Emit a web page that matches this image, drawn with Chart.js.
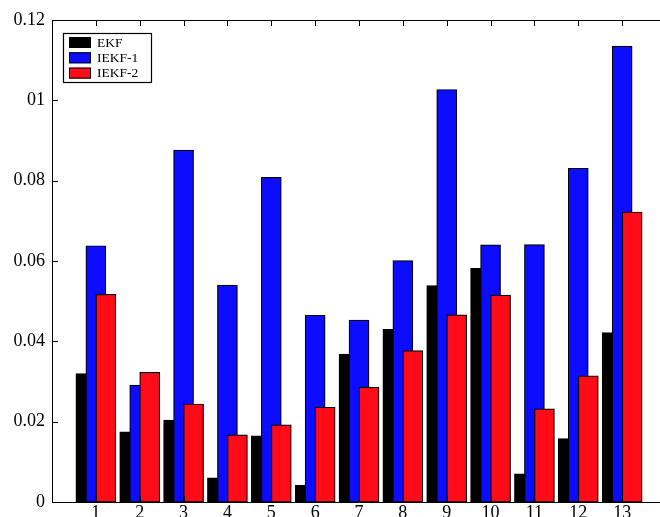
<!DOCTYPE html>
<html>
<head>
<meta charset="utf-8">
<script src="https://cdn.jsdelivr.net/npm/chart.js@4.4.1/dist/chart.umd.min.js"></script>
<style>
  html, body { margin: 0; padding: 0; background: #fff; overflow: hidden; }
  #wrap { width: 660px; height: 517px; overflow: hidden; }
  canvas { display: block; }
</style>
</head>
<body>
<div id="wrap"><canvas id="chart" width="680" height="540"></canvas></div>
<script>
// --- data ---
const categories = [1, 2, 3, 4, 5, 6, 7, 8, 9, 10, 11, 12, 13];
const ekf   = [0.0320, 0.0175, 0.0204, 0.0060, 0.0165, 0.0042, 0.0368, 0.0430, 0.0539, 0.0582, 0.0070, 0.0158, 0.0422];
const iekf1 = [0.0638, 0.0291, 0.0876, 0.0540, 0.0808, 0.0465, 0.0453, 0.0601, 0.1027, 0.0640, 0.0641, 0.0831, 0.1135];
const iekf2 = [0.0517, 0.0323, 0.0244, 0.0167, 0.0192, 0.0236, 0.0286, 0.0377, 0.0466, 0.0515, 0.0232, 0.0314, 0.0722];
const yTickValues = [0, 0.02, 0.04, 0.06, 0.08, 0.10, 0.12];
const yTickLabels = ['0', '0.02', '0.04', '0.06', '0.08', '01', '0.12'];

const FONT = '"Liberation Serif", "Times New Roman", serif';
const GROUP_SHIFT = 0.228; // bars in a group overlap by half their width

const series = [
  { label: 'EKF',    values: ekf,   color: '#000000', shift: -GROUP_SHIFT, order: 3 },
  { label: 'IEKF-1', values: iekf1, color: 'rgb(12,12,255)', shift: 0, order: 2 },
  { label: 'IEKF-2', values: iekf2, color: 'rgb(255,12,24)', shift: GROUP_SHIFT, order: 1 },
];

// MATLAB-style inward ticks on all four sides + top border line
const boxTicks = {
  id: 'boxTicks',
  afterDatasetsDraw(chart) {
    const { ctx, chartArea: a, scales } = chart;
    const len = 6;
    ctx.save();
    ctx.strokeStyle = '#000';
    ctx.lineWidth = 1;
    ctx.beginPath();
    ctx.moveTo(a.left, a.top + 0.5);
    ctx.lineTo(a.right, a.top + 0.5);
    scales.x.ticks.forEach(t => {
      const x = Math.round(scales.x.getPixelForValue(t.value)) + 0.5;
      ctx.moveTo(x, a.bottom); ctx.lineTo(x, a.bottom - len);
      ctx.moveTo(x, a.top); ctx.lineTo(x, a.top + len);
    });
    scales.y.ticks.forEach(t => {
      const y = Math.round(scales.y.getPixelForValue(t.value)) + 0.5;
      ctx.moveTo(a.left, y); ctx.lineTo(a.left + len, y);
      ctx.moveTo(a.right, y); ctx.lineTo(a.right - len, y);
    });
    ctx.stroke();
    ctx.restore();
  }
};

// boxed legend in the upper-left corner of the axes
const boxLegend = {
  id: 'boxLegend',
  afterDraw(chart) {
    const { ctx, chartArea: a } = chart;
    const bx = a.left + 11, by = a.top + 13, bw = 88, bh = 49;
    ctx.save();
    ctx.fillStyle = '#fff';
    ctx.fillRect(bx, by, bw, bh);
    ctx.strokeStyle = '#000';
    ctx.lineWidth = 1.2;
    ctx.strokeRect(bx + 0.5, by + 0.5, bw, bh);
    ctx.font = '13.5px ' + FONT;
    ctx.textBaseline = 'middle';
    chart.data.datasets.forEach((ds, i) => {
      const sy = by + 4 + i * 15.3;
      ctx.fillStyle = ds.backgroundColor;
      ctx.fillRect(bx + 6, sy, 22, 11);
      ctx.lineWidth = 1;
      ctx.strokeRect(bx + 6.5, sy + 0.5, 21, 10);
      ctx.fillStyle = '#000';
      ctx.fillText(ds.label, bx + 34, sy + 6);
    });
    ctx.restore();
  }
};

new Chart(document.getElementById('chart'), {
  type: 'bar',
  data: {
    datasets: series.map(s => ({
      label: s.label,
      data: categories.map((c, i) => ({ x: c + s.shift, y: s.values[i] })),
      backgroundColor: s.color,
      borderColor: '#000',
      borderWidth: 1.2,
      borderSkipped: false,
      barThickness: 20,
      grouped: false,
      order: s.order,
    })),
  },
  options: {
    responsive: false,
    animation: false,
    layout: { padding: { top: 20, right: 14, left: 0, bottom: 0 } },
    plugins: { legend: { display: false }, tooltip: { enabled: false } },
    scales: {
      x: {
        type: 'linear',
        offset: false,
        min: 0,
        max: 14,
        grid: { display: false, drawTicks: false },
        border: { display: true, color: '#000', width: 1 },
        afterBuildTicks: (s) => { s.ticks = categories.map(v => ({ value: v })); },
        afterFit: (s) => { s.height = 38; },
        ticks: {
          autoSkip: false, maxRotation: 0, padding: 0,
          color: '#000', font: { family: FONT, size: 18 },
          callback: (v) => String(v),
        },
      },
      y: {
        min: 0,
        max: 0.12,
        grid: { display: false, drawTicks: false },
        border: { display: true, color: '#000', width: 1 },
        afterBuildTicks: (s) => { s.ticks = yTickValues.map(v => ({ value: v })); },
        afterFit: (s) => { s.width = 52; },
        ticks: {
          padding: 7,
          color: '#000', font: { family: FONT, size: 18 },
          callback: (v, i) => yTickLabels[i],
        },
      },
    },
  },
  plugins: [boxTicks, boxLegend],
});
</script>
</body>
</html>
